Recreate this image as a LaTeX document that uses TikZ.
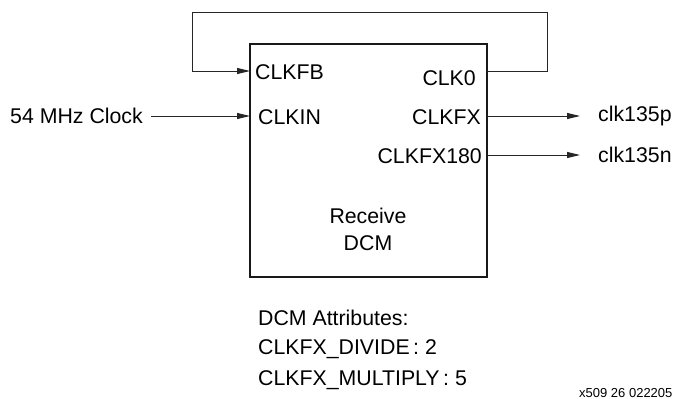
\documentclass[tikz,border=0pt]{standalone}
\usepackage{fontspec}
\setmainfont{Liberation Sans}
\usetikzlibrary{arrows.meta}
\begin{document}
\begin{tikzpicture}[x=1pt,y=-1pt,
  lbl/.style={inner sep=0pt,font=\fontsize{21.3}{25}\selectfont},
  wire/.style={line width=0.9pt,draw=black!85},
  sig/.style={wire,-{Triangle[length=13pt,width=6pt]}},
  blk/.style={draw=black!90,line width=1.8pt}]
\useasboundingbox (0,0) rectangle (675,399);
% DCM block
\node[blk,minimum width=237pt,minimum height=233pt,inner sep=0pt] (dcm) at (368.5,160.5) {};
% port anchors on the block edge
\coordinate (fbin) at (250,71);
\coordinate (clkin) at (250,116);
\coordinate (clk0) at (487,71);
\coordinate (clkfx) at (487,116);
\coordinate (clkfx180) at (487,155);
% feedback loop corners
\coordinate (c1) at (547,71);
\coordinate (c2) at (547,12);
\coordinate (c3) at (192,12);
\coordinate (c4) at (192,71);
% port names
\node[lbl,anchor=west] (tfb) at (255,72) {CLKFB};
\node[lbl,anchor=east] (t0) at (476,78) {CLK0};
\node[lbl,anchor=west] (tin) at (258,117) {CLKIN};
\node[lbl,anchor=east] (tfx) at (481,117) {CLKFX};
\node[lbl,anchor=east] (tfx180) at (482,156) {CLKFX180};
\node[lbl,align=center,font=\fontsize{21.3}{27}\selectfont] (title) at (368,229) {Receive\\DCM};
% external signals
\node[lbl,anchor=east] (src) at (143,116) {54 MHz Clock};
\node[lbl,anchor=west] (outp) at (598,116) {clk135p};
\node[lbl,anchor=west] (outn) at (598,155) {clk135n};
\coordinate (pend) at (580,116);
\coordinate (nend) at (580,155);
% connectors
\draw[wire] (clk0) -- (c1) -- (c2) -- (c3) -- (c4);
\draw[sig] (c4) -- (fbin);
\draw[sig] (src.east) ++(8,0) coordinate (srcw) (srcw) -- (clkin);
\draw[sig] (clkfx) -- (pend);
\draw[sig] (clkfx180) -- (nend);
% attribute notes
\node[lbl,anchor=west] (a1) at (258,318) {DCM Attributes:};
\node[lbl,anchor=west] (a2) at (258,349) {CLKFX\_DIVIDE\,: 2};
\node[lbl,anchor=west] (a3) at (258,380) {CLKFX\_MULTIPLY\,: 5};
\node[inner sep=0pt,anchor=west,font=\fontsize{13}{15}\selectfont] (fig) at (579,393) {x509 26 022205};
\end{tikzpicture}
\end{document}
